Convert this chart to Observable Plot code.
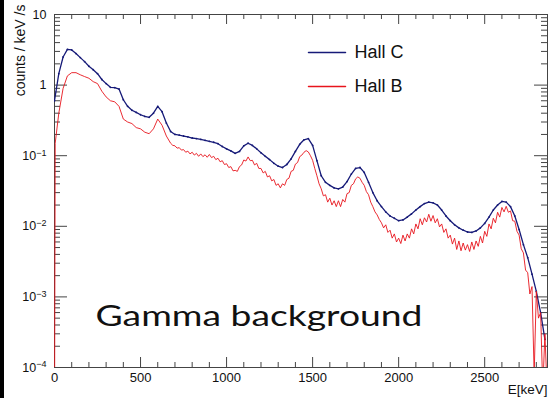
<!DOCTYPE html>
<html><head><meta charset="utf-8">
<script src="https://cdn.jsdelivr.net/npm/d3@7"></script>
<script src="https://cdn.jsdelivr.net/npm/@observablehq/plot@0.6"></script>
<style>
html,body{margin:0;padding:0;background:#fff;}
#wrap{position:relative;width:548px;height:398px;overflow:hidden;}
#edge{position:absolute;left:0;top:0;width:4px;height:398px;background:#000;}
</style></head><body>
<div id="wrap"><div id="chart"></div><div id="edge"></div></div>
<script>
// ---- data ----
const energyC = [0,25,50,75,100,125,150,175,200,225,250,275,300,325,350,375,400,425,450,475,500,525,550,575,600,625,650,675,700,725,750,775,800,825,850,875,900,925,950,975,1000,1025,1050,1075,1100,1125,1150,1175,1200,1225,1250,1275,1300,1325,1350,1375,1400,1425,1450,1475,1500,1525,1550,1575,1600,1625,1650,1675,1700,1725,1750,1775,1800,1825,1850,1875,1900,1925,1950,1975,2000,2025,2050,2075,2100,2125,2150,2175,2200,2225,2250,2275,2300,2325,2350,2375,2400,2425,2450,2475,2500,2525,2550,2575,2600,2625,2650,2675,2700,2725,2750,2775,2800,2825,2850];
const hallC = [0.6,1.45,2.5,3.2,3.15,2.8,2.45,2.15,1.85,1.65,
  1.45,1.2,1.05,0.93,0.92,0.88,0.62,0.5,0.44,0.41,
  0.38,0.36,0.35,0.40,0.50,0.42,0.29,0.22,0.20,0.195,
  0.19,0.185,0.178,0.175,0.17,0.165,0.16,0.155,0.148,0.135,
  0.125,0.117,0.108,0.115,0.138,0.150,0.140,0.125,0.11,0.098,
  0.088,0.078,0.071,0.068,0.075,0.09,0.115,0.145,0.168,0.175,
  0.14,0.085,0.052,0.042,0.038,0.035,0.034,0.036,0.043,0.055,
  0.066,0.068,0.058,0.042,0.03,0.023,0.019,0.016,0.014,0.013,
  0.012,0.0123,0.0135,0.015,0.017,0.019,0.021,0.022,0.0215,0.02,
  0.017,0.014,0.012,0.0105,0.0095,0.0088,0.0083,0.0082,0.0086,0.0095,
  0.011,0.0135,0.017,0.020,0.0225,0.022,0.019,0.014,0.009,0.0055,
  0.0036,0.0021,0.0012,0.0006,0.00025];
const energyB = [0,4,25,50,75,100,125,150,175,200,225,250,275,300,325,350,375,400,425,450,475,500,525,550,575,600,625,650,
  675,687.5,700,712.5,725,737.5,750,762.5,775,787.5,
  800,812.5,825,837.5,850,862.5,875,887.5,900,912.5,
  925,937.5,950,962.5,975,987.5,1000,1012.5,1025,1037.5,
  1050,1062.5,1075,1087.5,1100,1112.5,1125,1137.5,1150,1162.5,
  1175,1187.5,1200,1212.5,1225,1237.5,1250,1262.5,1275,1287.5,
  1300,1312.5,1325,1337.5,1350,1362.5,1375,1387.5,1400,1412.5,
  1425,1437.5,1450,1462.5,1475,1487.5,1500,1512.5,1525,1537.5,
  1550,1562.5,1575,1587.5,1600,1612.5,1625,1637.5,1650,1662.5,
  1675,1687.5,1700,1712.5,1725,1737.5,1750,1762.5,1775,1787.5,
  1800,1812.5,1825,1837.5,1850,1862.5,1875,1887.5,1900,1912.5,
  1925,1937.5,1950,1962.5,1975,1987.5,2000,2012.5,2025,2037.5,
  2050,2062.5,2075,2087.5,2100,2112.5,2125,2137.5,2150,2162.5,
  2175,2187.5,2200,2212.5,2225,2237.5,2250,2262.5,2275,2287.5,
  2300,2312.5,2325,2337.5,2350,2362.5,2375,2387.5,2400,2412.5,
  2425,2437.5,2450,2462.5,2475,2487.5,2500,2512.5,2525,2537.5,
  2550,2562.5,2575,2587.5,2600,2612.5,2625,2637.5,2650,2662.5,
  2675,2687.5,2700,2712.5,2725,2737.5,2750,2762.5,2775,2787.5,
  2800,2812.5,2825,2837.5,2850,2862.5];
const hallB = [0.00001,0.15,0.4,0.9,1.35,1.5,1.5,1.4,1.32,1.25,1.12,1.05,0.82,0.68,0.6,0.58,0.5,0.33,0.3,0.285,0.25,0.24,0.215,0.205,0.24,0.33,0.27,0.19,
  0.15,0.14,0.138,0.128,0.13,0.12,0.122,0.112,0.116,0.106,
  0.112,0.102,0.108,0.098,0.106,0.097,0.103,0.095,0.104,0.094,
  0.098,0.088,0.092,0.082,0.085,0.075,0.077,0.068,0.07,0.061,
  0.062,0.06,0.07,0.074,0.087,0.084,0.096,0.085,0.086,0.074,
  0.078,0.066,0.066,0.057,0.06,0.05,0.052,0.044,0.046,0.038,
  0.04,0.035,0.04,0.038,0.046,0.048,0.06,0.062,0.076,0.08,
  0.097,0.102,0.112,0.118,0.113,0.1,0.086,0.066,0.052,0.04,
  0.034,0.027,0.028,0.022,0.025,0.02,0.023,0.019,0.023,0.019,
  0.024,0.022,0.029,0.03,0.038,0.04,0.047,0.05,0.048,0.042,
  0.038,0.031,0.028,0.022,0.019,0.016,0.0145,0.0125,0.0112,0.0095,
  0.0105,0.0082,0.0088,0.0068,0.0078,0.006,0.0068,0.0057,0.0075,0.0062,
  0.0078,0.0068,0.0092,0.0078,0.0108,0.0092,0.0128,0.0105,0.0132,0.0115,
  0.0148,0.0118,0.0142,0.0112,0.0128,0.0098,0.0108,0.0082,0.0092,0.0068,
  0.0075,0.0056,0.0068,0.0047,0.0062,0.0045,0.0058,0.0046,0.0055,0.0044,
  0.006,0.0047,0.0062,0.0052,0.0072,0.0058,0.0085,0.0072,0.0108,0.0092,
  0.013,0.0112,0.0158,0.0135,0.0185,0.016,0.0192,0.0158,0.0165,0.012,
  0.0118,0.0085,0.0075,0.0048,0.0042,0.0024,0.0022,0.0011,0.0014,0.00008,
  0.0012,0.0005,0.0006,0.00005,0.0003,0.00005];
const seriesNames = ["Hall C", "Hall B"];
const seriesColors = ["#161a78", "#e8141c"];
const xMajorTicks = [0,500,1000,1500,2000,2500];
const xMinorTicks = [100,200,300,400,600,700,800,900,1100,1200,1300,1400,1600,1700,1800,1900,2100,2200,2300,2400,2600,2700,2800];
const yMajorTicks = [1e-4,1e-3,1e-2,1e-1,1,10];
const yTickLabels = ["10^-4","10^-3","10^-2","10^-1","1","10"];
const yDecades = [1e-4,1e-3,1e-2,1e-1,1];
const yMinorMultipliers = [2,3,4,5,6,7,8,9];
const xLabel = "E[keV]";
const yLabel = "counts / keV /s";
const annotation = "Gamma background";

// ---- tables built from the arrays ----
const rowsC = energyC.map((e,i)=>({E:e, v:hallC[i]}));
const rowsB = energyB.map((e,i)=>({E:e, v:hallB[i]}));
const yMinorTicks = yDecades.flatMap(d => yMinorMultipliers.map(m => d*m));

const W = 548, H = 398, mL = 54, mR = 1, mT = 14, mB = 31;
const frameW = W - mL - mR, frameH = H - mT - mB;
const axisColor = "#444";
const majX = 10, minX = 5, majY = 13, minY = 6;
const legendShape = {draw(ctx, l){ ctx.moveTo(0,0); ctx.lineTo(0,-l); }};

const chart = Plot.plot({
  width: W, height: H,
  marginLeft: mL, marginRight: mR, marginTop: mT, marginBottom: mB,
  style: {fontFamily: "'Liberation Sans', Arial, sans-serif", background: "transparent", color: "#111"},
  x: {domain: [0, 2865]},
  y: {type: "log", domain: [1e-4, 10]},
  marks: [
    // frame and ROOT-style ticks inside it on all four sides
    Plot.frame({stroke: axisColor}),
    Plot.ruleX(xMajorTicks, {x: d=>d, insetTop: frameH - majX, stroke: axisColor}),
    Plot.ruleX(xMinorTicks, {x: d=>d, insetTop: frameH - minX, stroke: axisColor}),
    Plot.ruleX(xMajorTicks, {x: d=>d, insetBottom: frameH - majX, stroke: axisColor}),
    Plot.ruleX(xMinorTicks, {x: d=>d, insetBottom: frameH - minX, stroke: axisColor}),
    Plot.ruleY(yMajorTicks, {y: d=>d, insetRight: frameW - majY, stroke: axisColor}),
    Plot.ruleY(yMinorTicks, {y: d=>d, insetRight: frameW - minY, stroke: axisColor}),
    Plot.ruleY(yMajorTicks, {y: d=>d, insetLeft: frameW - majY, stroke: axisColor}),
    Plot.ruleY(yMinorTicks, {y: d=>d, insetLeft: frameW - minY, stroke: axisColor}),
    Plot.axisX({ticks: xMajorTicks, tickSize: 0, tickPadding: 5, fontSize: 13, label: null, tickFormat: d3.format("d")}),
    Plot.axisY({ticks: yMajorTicks, tickSize: 0, tickPadding: 8, fontSize: 12.5, label: null,
      tickFormat: d => yTickLabels[yMajorTicks.indexOf(d)]}),
    // spectra
    Plot.line(rowsC, {x:"E", y:"v", stroke: seriesColors[0], strokeWidth: 1.3, clip: true}),
    Plot.dot(rowsC, {x:"E", y:"v", r: 0.9, fill: seriesColors[0], clip: true}),
    Plot.line(rowsB, {x:"E", y:"v", stroke: seriesColors[1], strokeWidth: 0.9, clip: true}),
    // titles
    Plot.text([xLabel], {frameAnchor:"bottom-right", textAnchor:"end", lineAnchor:"bottom", dy: 26, fontSize: 13.5}),
    Plot.text([yLabel], {frameAnchor:"top-left", textAnchor:"end", lineAnchor:"middle", rotate:-90, dx:-33.5, dy:-10, fontSize: 14}),
    // legend
    Plot.vector([seriesNames[0]], {frameAnchor:"top-left", anchor:"start", shape: legendShape, length: 37, rotate: 90, dx: 254, dy: 38, stroke: seriesColors[0]}),
    Plot.vector([seriesNames[1]], {frameAnchor:"top-left", anchor:"start", shape: legendShape, length: 37, rotate: 90, dx: 254, dy: 72, stroke: seriesColors[1]}),
    Plot.text([seriesNames[0]], {frameAnchor:"top-left", textAnchor:"start", lineAnchor:"middle", dx: 300, dy: 38, fontSize: 18}),
    Plot.text([seriesNames[1]], {frameAnchor:"top-left", textAnchor:"start", lineAnchor:"middle", dx: 300, dy: 72, fontSize: 18}),
    Plot.text([annotation], {frameAnchor:"bottom-left", textAnchor:"start", lineAnchor:"bottom", dx: 41, dy: -42,
      fontSize: 28, fontFamily: "Lato, 'Open Sans', sans-serif"})
  ]
});
document.getElementById("chart").appendChild(chart);

// superscript exponents on the log axis labels
d3.select(chart).selectAll('g[aria-label="y-axis tick label"] text').each(function(){
  const s = this.textContent;
  const m = s.match(/^10\^(.+)$/);
  if (m) {
    const t = d3.select(this);
    t.text("");
    t.append("tspan").text("10");
    t.append("tspan").attr("dy", "-0.45em").attr("font-size", "0.72em").text(m[1].replace("-", "\u2212"));
  }
});
// the annotation font in the reference is a wide geometric sans: stretch to its width
d3.select(chart).selectAll("text").filter(function(){ return this.textContent === annotation; })
  .attr("textLength", 327).attr("lengthAdjust", "spacingAndGlyphs");
</script>
</body></html>
